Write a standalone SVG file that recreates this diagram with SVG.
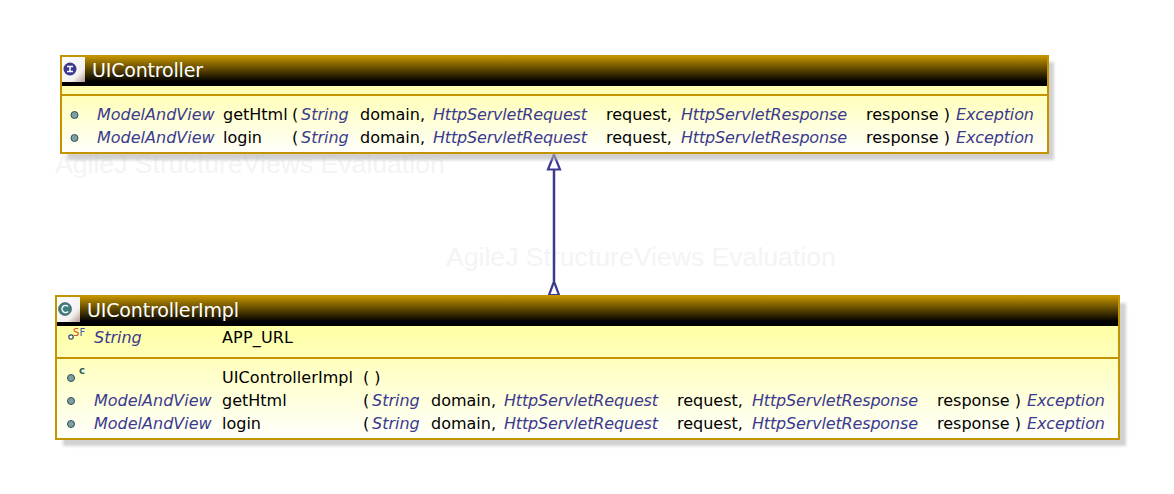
<svg xmlns="http://www.w3.org/2000/svg" width="1174" height="494" viewBox="0 0 1174 494">
<style>
text{font-family:"DejaVu Sans",sans-serif;font-size:16px;fill:#000;white-space:pre}
.t{font-style:italic;fill:#3b3a8f}
.h{fill:#fff;font-size:19px}
.w{fill:#f4f4f4;font-size:26.6px;font-family:"Liberation Sans",sans-serif}
.box{fill:none;stroke:#c49400;stroke-width:2}
.sep{stroke:#c49400;stroke-width:2}
.v{fill:#7fa0a0;stroke:#2f4f5f;stroke-width:1}
.sm{font-size:10px}
.sd{fill:#b4b4b4;opacity:.6}
</style>
<defs>
<linearGradient id="hd" x1="0" y1="0" x2="0" y2="1"><stop offset="0" stop-color="#c49400"/><stop offset="0.85" stop-color="#000"/><stop offset="1" stop-color="#000"/></linearGradient>
<linearGradient id="bd" x1="0" y1="0" x2="0" y2="1"><stop offset="0" stop-color="#ffffa0"/><stop offset="0.25" stop-color="#ffffa8"/><stop offset="1" stop-color="#fffffc"/></linearGradient>
<linearGradient id="ic" x1="0" y1="0" x2="1" y2="1"><stop offset="0" stop-color="#fff"/><stop offset="0.7" stop-color="#f4f0f0"/><stop offset="1" stop-color="#b09a90"/></linearGradient>
<filter id="sh" x="-5%" y="-20%" width="110%" height="140%"><feGaussianBlur stdDeviation="1.500"/></filter>
</defs>
<text class="w" x="55" y="173">AgileJ StructureViews Evaluation</text>
<text class="w" x="446" y="266">AgileJ StructureViews Evaluation</text>
<g id="connectors">
<line x1="554" y1="169" x2="554" y2="281" stroke="#3b3a8f" stroke-width="2.500"/>
<path d="M554 154.500L548 169.500H560Z" fill="#fff" stroke="#3b3a8f" stroke-width="2.200"/>
<path d="M554 281.500L549 295H559Z" fill="#fff" stroke="#3b3a8f" stroke-width="2.200"/>
</g>
<g id="UIController">
<rect class="sd" x="67" y="62" width="987" height="98" filter="url(#sh)"/>
<rect x="61" y="56" width="987" height="97" fill="url(#bd)"/>
<rect x="61" y="56" width="987" height="30" fill="url(#hd)"/>
<line class="sep" x1="61" y1="95" x2="1048" y2="95"/>
<rect class="box" x="61" y="56" width="987" height="97"/>
<rect x="62" y="57" width="23" height="25" fill="url(#ic)"/>
<circle cx="70" cy="69" r="6.500" fill="#3b3a8f"/>
<path d="M67 66.500h6M70 66.500v5M67 71.500h6" stroke="#fff" stroke-width="1.500" fill="none"/>
<text class="h" x="92" y="77" textLength="111">UIController</text>
<circle class="v" cx="74.500" cy="115" r="3.500"/>
<text class="t" x="97" y="120">ModelAndView</text><text x="223" y="120">getHtml</text><text x="292" y="120">(</text>
<text class="t" x="301" y="120">String</text><text x="360" y="120">domain,</text>
<text class="t" x="433" y="120" textLength="154">HttpServletRequest</text><text x="606" y="120">request,</text>
<text class="t" x="681" y="120" textLength="166">HttpServletResponse</text><text x="866" y="120">response )</text>
<text class="t" x="956" y="120" textLength="78">Exception</text>
<circle class="v" cx="74.500" cy="138" r="3.500"/>
<text class="t" x="97" y="143">ModelAndView</text><text x="223" y="143">login</text><text x="292" y="143">(</text>
<text class="t" x="301" y="143">String</text><text x="360" y="143">domain,</text>
<text class="t" x="433" y="143" textLength="154">HttpServletRequest</text><text x="606" y="143">request,</text>
<text class="t" x="681" y="143" textLength="166">HttpServletResponse</text><text x="866" y="143">response )</text>
<text class="t" x="956" y="143" textLength="78">Exception</text>
</g>
<g id="UIControllerImpl">
<rect class="sd" x="63" y="303" width="1063" height="143" filter="url(#sh)"/>
<rect x="56" y="296" width="1063" height="143" fill="url(#bd)"/>
<rect x="56" y="296" width="1063" height="30" fill="url(#hd)"/>
<line class="sep" x1="56" y1="358" x2="1119" y2="358"/>
<rect class="box" x="56" y="296" width="1063" height="143"/>
<rect x="57" y="297" width="23" height="25" fill="url(#ic)"/>
<circle cx="65" cy="309" r="6.500" fill="#3f7f7f" stroke="#234" stroke-width="0.500"/>
<path d="M68 306.500a3.500 3.500 0 1 0 0 5" stroke="#fff" stroke-width="1.500" fill="none"/>
<text class="h" x="87" y="317" textLength="152">UIControllerImpl</text>
<circle cx="71" cy="337" r="2.200" fill="#fff" stroke="#2f4f5f" stroke-width="1.200"/>
<text class="sm" x="73" y="336" style="fill:#c8501e">S</text><text class="sm" x="79.500" y="336" style="fill:#3b5fb0">F</text>
<text class="t" x="94" y="343">String</text><text x="222" y="343" textLength="71">APP_URL</text>
<circle class="v" cx="71" cy="378" r="3.500"/>
<text class="sm" x="79" y="374" style="fill:#2f5f5f;font-weight:bold">c</text>
<text x="222" y="383" textLength="131">UIControllerImpl</text><text x="363" y="383">( )</text>
<circle class="v" cx="71" cy="401" r="3.500"/>
<text class="t" x="94" y="406">ModelAndView</text><text x="222" y="406">getHtml</text><text x="363" y="406">(</text>
<text class="t" x="372" y="406">String</text><text x="431" y="406">domain,</text>
<text class="t" x="504" y="406" textLength="154">HttpServletRequest</text><text x="677" y="406">request,</text>
<text class="t" x="752" y="406" textLength="166">HttpServletResponse</text><text x="937" y="406">response )</text>
<text class="t" x="1027" y="406" textLength="78">Exception</text>
<circle class="v" cx="71" cy="424" r="3.500"/>
<text class="t" x="94" y="429">ModelAndView</text><text x="222" y="429">login</text><text x="363" y="429">(</text>
<text class="t" x="372" y="429">String</text><text x="431" y="429">domain,</text>
<text class="t" x="504" y="429" textLength="154">HttpServletRequest</text><text x="677" y="429">request,</text>
<text class="t" x="752" y="429" textLength="166">HttpServletResponse</text><text x="937" y="429">response )</text>
<text class="t" x="1027" y="429" textLength="78">Exception</text>
</g>
</svg>
